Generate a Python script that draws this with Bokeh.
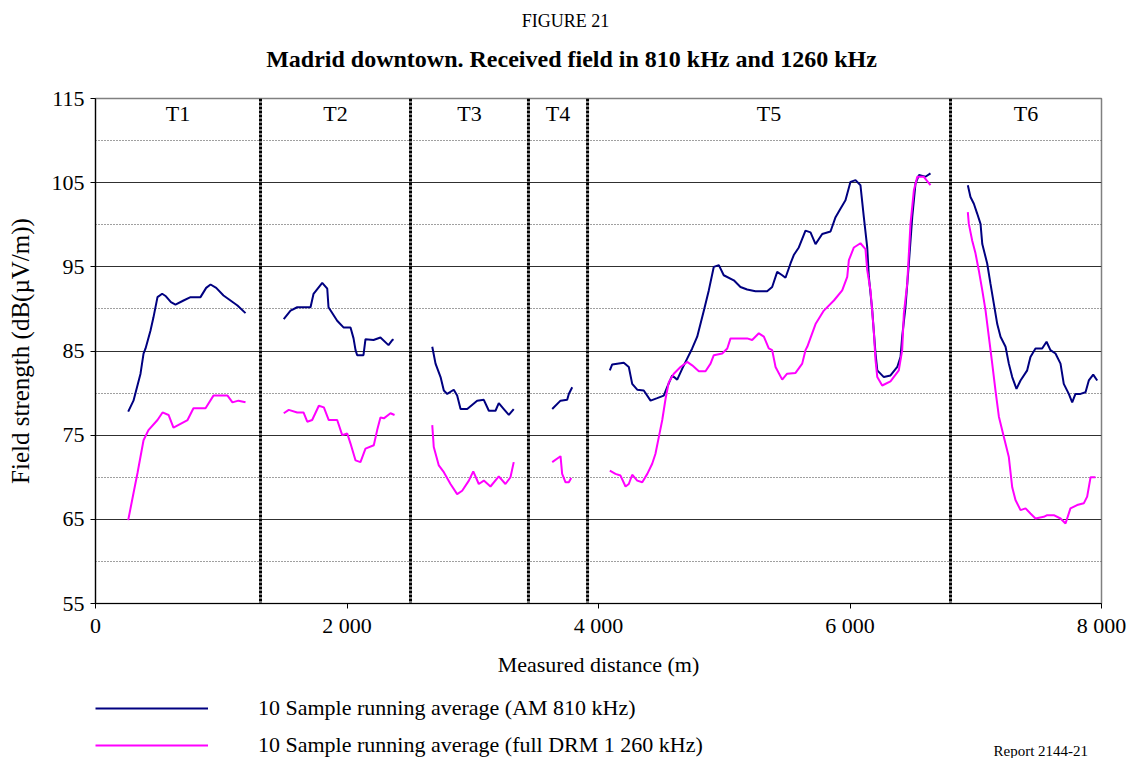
import numpy as np
from bokeh.plotting import figure
from bokeh.layouts import column
from bokeh.models import (FixedTicker, Grid, Span, Legend, LegendItem, Label,
                          ColumnDataSource)
from bokeh.core.properties import value
from bokeh.embed import file_html
from bokeh.resources import INLINE

FONT = "Liberation Serif"

# ---------------- data ----------------
x_ticks = [0, 2000, 4000, 6000, 8000]
x_tick_labels = ["0", "2 000", "4 000", "6 000", "8 000"]
y_ticks = [55, 65, 75, 85, 95, 105, 115]
y_minor_grid = [60, 70, 80, 90, 100, 110]

section_bounds = [1312, 2505, 3443, 3913, 6799]
section_labels = ["T1", "T2", "T3", "T4", "T5", "T6"]

# AM 810 kHz (10 sample running average), one list pair per section
am_t1_x = [260, 302, 358, 382, 398, 437, 461, 493, 530, 560, 600, 636, 700, 756, 835, 880, 915, 960, 1018, 1129, 1193]
am_t1_y = [77.8, 79.1, 82.3, 84.7, 85.3, 87.4, 89.0, 91.4, 91.8, 91.5, 90.8, 90.5, 91.0, 91.4, 91.4, 92.5, 92.9, 92.5, 91.6, 90.4, 89.5]
am_t2_x = [1497, 1551, 1604, 1710, 1734, 1803, 1843, 1853, 1922, 1972, 2028, 2052, 2068, 2081, 2131, 2147, 2211, 2266, 2330, 2360, 2370]
am_t2_y = [88.8, 89.8, 90.2, 90.2, 91.8, 93.1, 92.4, 90.2, 88.6, 87.8, 87.8, 86.5, 85.1, 84.5, 84.5, 86.4, 86.3, 86.6, 85.7, 86.3, 86.4]
am_t3_x = [2678, 2704, 2744, 2770, 2797, 2849, 2876, 2903, 2956, 3035, 3088, 3128, 3181, 3207, 3247, 3287, 3326]
am_t3_y = [85.5, 83.5, 81.9, 80.3, 79.9, 80.4, 79.7, 78.1, 78.1, 79.1, 79.2, 77.9, 77.9, 78.8, 78.1, 77.4, 78.1]
am_t4_x = [3632, 3698, 3751, 3764, 3791]
am_t4_y = [78.1, 79.1, 79.2, 79.9, 80.7]
am_t5_x = [4090, 4109, 4201, 4241, 4268, 4308, 4360, 4414, 4467, 4519, 4546, 4586, 4626, 4666, 4705,
           4745, 4785, 4838, 4877, 4917, 4957, 4996, 5076, 5129, 5182, 5248, 5341, 5381, 5421, 5461,
           5487, 5527, 5553, 5593, 5646, 5686, 5726, 5779, 5845, 5885, 5924, 5964, 6004, 6044, 6083,
           6110, 6137, 6150, 6177, 6189, 6203, 6217, 6269, 6322, 6376, 6402, 6415, 6441, 6468, 6495,
           6521, 6548, 6600, 6640]
am_t5_y = [82.7, 83.4, 83.6, 83.1, 81.1, 80.4, 80.3, 79.1, 79.4, 79.7, 80.7, 82.1, 81.6, 82.9, 84.1,
           85.3, 86.7, 89.8, 92.2, 95.0, 95.2, 94.0, 93.4, 92.6, 92.3, 92.1, 92.1, 92.6, 94.4, 94.0,
           93.7, 95.4, 96.4, 97.3, 99.3, 99.1, 97.7, 98.9, 99.2, 100.9, 101.9, 102.9, 105.1, 105.3, 104.7,
           100.9, 97.3, 93.8, 89.8, 87.4, 84.7, 82.7, 81.9, 82.1, 83.1, 84.3, 86.7, 90.2, 95.4, 100.9,
           104.9, 105.9, 105.7, 106.1]
am_t6_x = [6937, 6958, 6985, 7012, 7038, 7052, 7091, 7117, 7144, 7171, 7197, 7237, 7263, 7290, 7324,
           7356, 7409, 7435, 7475, 7528, 7563, 7594, 7634, 7674, 7700, 7740, 7767, 7793, 7833, 7873,
           7899, 7934, 7966]
am_t6_y = [104.7, 103.3, 102.5, 101.3, 100.1, 97.7, 95.4, 93.0, 90.6, 88.2, 86.7, 85.5, 83.5, 81.9, 80.5,
           81.5, 82.7, 84.3, 85.3, 85.3, 86.1, 85.1, 84.7, 83.5, 81.1, 79.9, 78.9, 79.9, 79.9, 80.1,
           81.5, 82.2, 81.5]

# full DRM 1 260 kHz (10 sample running average)
drm_t1_x = [260, 302, 334, 382, 421, 493, 533, 581, 620, 732, 779, 875, 938, 1050, 1089, 1137, 1193]
drm_t1_y = [64.9, 68.1, 70.5, 74.4, 75.6, 76.8, 77.7, 77.4, 75.9, 76.8, 78.2, 78.2, 79.7, 79.7, 78.9, 79.1, 78.9]
drm_t2_x = [1497, 1537, 1604, 1654, 1684, 1723, 1776, 1816, 1855, 1922, 1962, 2002, 2028, 2068, 2107,
            2147, 2213, 2240, 2266, 2293, 2346, 2378]
drm_t2_y = [77.6, 78.0, 77.7, 77.7, 76.6, 76.8, 78.5, 78.3, 76.8, 76.8, 75.0, 75.2, 74.0, 72.0, 71.8,
            73.4, 73.8, 75.6, 77.1, 77.0, 77.6, 77.4]
drm_t3_x = [2678, 2690, 2730, 2770, 2823, 2876, 2916, 2969, 3004, 3048, 3088, 3141, 3207, 3260, 3300, 3326]
drm_t3_y = [76.2, 73.6, 71.4, 70.6, 69.2, 68.0, 68.4, 69.6, 70.7, 69.2, 69.6, 68.9, 70.1, 69.2, 70.0, 71.8]
drm_t4_x = [3632, 3698, 3711, 3738, 3764, 3783]
drm_t4_y = [71.8, 72.5, 70.4, 69.4, 69.4, 69.9]
drm_t5_x = [4090, 4135, 4175, 4215, 4241, 4268, 4308, 4348, 4388, 4427, 4453, 4480, 4507, 4533, 4559,
            4599, 4652, 4705, 4745, 4798, 4851, 4891, 4917, 4984, 5024, 5050, 5103, 5182, 5222, 5275,
            5315, 5354, 5381, 5408, 5461, 5500, 5567, 5620, 5646, 5660, 5726, 5792, 5872, 5938, 5978,
            5991, 6031, 6083, 6123, 6137, 6163, 6189, 6203, 6217, 6256, 6322, 6388, 6415, 6428, 6455,
            6481, 6508, 6535, 6587, 6640]
drm_t5_y = [70.8, 70.4, 70.2, 68.9, 69.2, 70.3, 69.6, 69.4, 70.4, 71.6, 72.8, 74.8, 76.8, 79.3, 81.3,
            82.3, 83.1, 83.7, 83.3, 82.6, 82.6, 83.5, 84.5, 84.7, 85.3, 86.5, 86.5, 86.5, 86.3, 87.1,
            86.7, 85.3, 85.1, 83.1, 81.6, 82.3, 82.4, 83.5, 85.1, 85.5, 88.2, 89.8, 91.0, 92.2, 93.8,
            95.8, 97.3, 97.8, 97.1, 94.6, 92.2, 87.4, 83.9, 81.9, 80.9, 81.4, 82.7, 85.1, 89.4, 93.0,
            100.1, 104.1, 105.7, 105.7, 104.7]
drm_t6_x = [6937, 6945, 6972, 6998, 7024, 7052, 7078, 7104, 7131, 7157, 7184, 7223, 7263, 7290, 7316,
            7356, 7396, 7435, 7475, 7541, 7568, 7621, 7674, 7714, 7753, 7806, 7859, 7886, 7913, 7952]
drm_t6_y = [101.5, 100.1, 98.1, 96.6, 94.6, 92.2, 89.8, 86.7, 83.5, 80.3, 77.2, 74.8, 72.4, 68.8, 67.3,
            66.1, 66.3, 65.7, 65.1, 65.3, 65.5, 65.5, 65.1, 64.5, 66.3, 66.7, 66.9, 67.7, 70.0, 70.0]

am_label = "10 Sample running average (AM 810 kHz)"
drm_label = "10 Sample running average (full DRM 1 260 kHz)"
fig_label = "FIGURE 21"
title_text = "Madrid downtown. Received field in 810 kHz and 1260 kHz"
report_text = "Report 2144-21"

AM_COLOR = "#000080"
DRM_COLOR = "#FF00FF"
W = 1131
FRAME_LEFT = 95
HEAD_H, FOOT_H = 86, 73
MAIN_H = 758 - HEAD_H - FOOT_H

# ---------------- heading ----------------
head = figure(width=W, height=HEAD_H, x_range=(0, 1), y_range=(0, 1),
              x_axis_location=None, y_axis_location=None,
              output_backend="svg", toolbar_location=None, min_border=0)
head.grid.visible = False
head.outline_line_color = None
head.add_layout(Label(x=565 - FRAME_LEFT, y=HEAD_H - 20, x_units="screen", y_units="screen",
                      text=fig_label, text_font=FONT, text_font_size="18px", text_align="center",
                      text_baseline="middle", text_color="black"))
head.add_layout(Label(x=571 - FRAME_LEFT, y=HEAD_H - 58, x_units="screen", y_units="screen",
                      text=title_text, text_font=FONT, text_font_size="24px",
                      text_font_style="bold", text_align="center", text_baseline="middle",
                      text_color="black"))

# ---------------- main chart ----------------
p = figure(width=W, height=MAIN_H, x_range=(0, 8000), y_range=(55, 115),
           output_backend="svg", toolbar_location=None,
           min_border_left=FRAME_LEFT, min_border_right=30, min_border_top=12,
           min_border_bottom=MAIN_H - 12 - 505)
p.outline_line_color = "#808080"
p.outline_line_width = 1.5

p.xaxis.ticker = FixedTicker(ticks=x_ticks)
p.xaxis.major_label_overrides = {t: l for t, l in zip(x_ticks, x_tick_labels)}
p.yaxis.ticker = FixedTicker(ticks=y_ticks)
for ax in (p.xaxis[0], p.yaxis[0]):
    ax.minor_tick_line_color = None
    ax.major_tick_in = 0
    ax.major_tick_out = 5
    ax.axis_line_color = "black"
    ax.axis_line_width = 1.2
    ax.major_tick_line_color = "black"
    ax.major_label_text_font = FONT
    ax.major_label_text_font_size = "22px"
    ax.major_label_text_color = "black"
    ax.axis_label_text_font = FONT
    ax.axis_label_text_font_style = "normal"
    ax.axis_label_text_color = "black"
p.xaxis.axis_label = "Measured distance (m)"
p.yaxis.axis_label = "Field strength (dB(\u00b5V/m))"
p.xaxis.axis_label_text_font_size = "22px"
p.yaxis.axis_label_text_font_size = "25px"
p.xaxis.major_label_standoff = 4
p.xaxis.axis_label_standoff = 11
p.yaxis.major_label_standoff = 6
p.yaxis.axis_label_standoff = 15

p.xgrid.grid_line_color = None
p.ygrid.ticker = FixedTicker(ticks=y_ticks)
p.ygrid.grid_line_color = "#303030"
p.ygrid.grid_line_width = 1.2
p.add_layout(Grid(dimension=1, ticker=FixedTicker(ticks=y_minor_grid),
                  grid_line_color="#404040", grid_line_width=1, grid_line_dash="1 2"))

for b in section_bounds:
    p.add_layout(Span(location=b, dimension="height", line_color="black",
                      line_width=3, line_dash="3 1"))

edges = [0] + section_bounds + [8000]
centers = [(a + b) / 2 for a, b in zip(edges[:-1], edges[1:])]
p.text(x=centers, y=[113.2] * len(centers), text=section_labels,
       text_font=value(FONT), text_font_size="22px", text_align="center",
       text_baseline="middle", text_color="black")

am_src = ColumnDataSource(dict(
    xs=[am_t1_x, am_t2_x, am_t3_x, am_t4_x, am_t5_x, am_t6_x],
    ys=[am_t1_y, am_t2_y, am_t3_y, am_t4_y, am_t5_y, am_t6_y]))
drm_src = ColumnDataSource(dict(
    xs=[drm_t1_x, drm_t2_x, drm_t3_x, drm_t4_x, drm_t5_x, drm_t6_x],
    ys=[drm_t1_y, drm_t2_y, drm_t3_y, drm_t4_y, drm_t5_y, drm_t6_y]))
p.multi_line("xs", "ys", source=am_src, line_color=AM_COLOR, line_width=2)
p.multi_line("xs", "ys", source=drm_src, line_color=DRM_COLOR, line_width=2)

# ---------------- legend strip ----------------
foot = figure(width=W, height=FOOT_H, x_range=(0, 1), y_range=(0, 1),
              x_axis_location=None, y_axis_location=None,
              output_backend="svg", toolbar_location=None, min_border=0)
foot.grid.visible = False
foot.outline_line_color = None
# key-only renderers (no visible data points)
k_am = foot.line(x=[np.nan, np.nan], y=[np.nan, np.nan], line_color=AM_COLOR, line_width=2)
k_drm = foot.line(x=[np.nan, np.nan], y=[np.nan, np.nan], line_color=DRM_COLOR, line_width=2)
foot.add_layout(Legend(items=[LegendItem(label=am_label, renderers=[k_am]),
                              LegendItem(label=drm_label, renderers=[k_drm])],
                       location=(0, 0), orientation="vertical",
                       glyph_width=113, glyph_height=22, label_height=22,
                       label_standoff=50, spacing=11, padding=0, margin=0,
                       label_text_font=FONT, label_text_font_size="22px",
                       label_text_color="black", label_text_baseline="middle",
                       border_line_color=None, background_fill_alpha=0))
foot.add_layout(Label(x=993 - FRAME_LEFT, y=16, x_units="screen", y_units="screen",
                      text=report_text, text_font=FONT, text_font_size="15px",
                      text_align="left", text_baseline="top", text_color="black"))

layout = column(head, p, foot, spacing=0)
open("out.html", "w").write(file_html(layout, INLINE))
